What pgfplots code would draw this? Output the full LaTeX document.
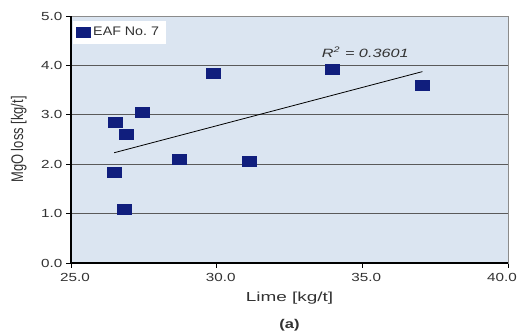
\documentclass[border=0pt]{standalone}
\usepackage{graphicx}
\usepackage{pgfplots}
\pgfplotsset{compat=1.18}
\usepackage{fontspec}
\setmainfont{Liberation Sans}
\definecolor{plotbg}{RGB}{219,229,241}
\definecolor{navy}{RGB}{16,30,125}
\definecolor{gridc}{RGB}{90,90,90}
\definecolor{labc}{RGB}{50,50,50}
% wide lettering used throughout the figure
\newcommand{\wide}[1]{\scalebox{1.3}[1]{#1}}
\begin{document}
\begin{tikzpicture}[x=1pt,y=1pt]
\useasboundingbox (-53.25pt,-50.25pt) rectangle (337.5pt,197.25pt);
\begin{axis}[
  at={(0,0)}, anchor=south west,
  scale only axis,
  width=327.75pt, height=185.25pt,
  xmin=25, xmax=40, ymin=0, ymax=5,
  xtick={25,30,35,40}, ytick={0,1,2,3,4,5},
  xticklabels={\wide{25.0},\wide{30.0},\wide{35.0},\wide{40.0}\kern15pt},
  yticklabels={\wide{0.0},\wide{1.0},\wide{2.0},\wide{3.0},\wide{4.0},\wide{5.0}},
  tick align=outside, tick pos=left,
  major tick length=3.5pt,
  tick style={black, line width=0.7pt},
  axis background/.style={fill=plotbg},
  axis line style={gridc!70, line width=0.6pt},
  ymajorgrids, grid style={gridc, line width=0.7pt},
  ticklabel style={font=\fontsize{8.8}{10}\selectfont, text=labc},
  xticklabel style={yshift=-0.5pt, xshift=3pt},
  yticklabel style={xshift=0.5pt},
  xlabel={\scalebox{1.45}[1]{Lime [kg/t]}},
  xlabel style={font=\fontsize{9.8}{10}\selectfont, text=labc, yshift=-1pt},
  ylabel={\scalebox{1}[1.3]{MgO loss [kg/t]}},
  ylabel style={font=\fontsize{9.7}{10}\selectfont, text=labc, yshift=4pt},
  legend style={at={(0.003,0.98)}, anchor=north west, draw=none, fill=white,
    font=\fontsize{9.3}{10}\selectfont, text=labc, inner xsep=3pt, inner ysep=2.5pt,
    row sep=0pt},
  legend cell align=left,
  clip=false,
]
% left and bottom axis lines drawn solid black
\draw[black, line width=0.8pt] (axis cs:25,5) -- (axis cs:25,0) -- (axis cs:40,0);
\addplot[only marks, mark=square*, mark size=3.75pt,
  mark options={fill=navy, draw=navy, xscale=1.4}]
  coordinates {
    (26.51,2.85) (26.89,2.61) (27.44,3.06) (29.88,3.85) (28.71,2.10)
    (31.12,2.06) (26.48,1.84) (26.82,1.09) (33.97,3.93) (37.06,3.60)
  };
\addlegendentry{\scalebox{1.15}[1]{EAF No.\ 7}}
% linear trend line
\addplot[black, line width=0.6pt, forget plot] coordinates {(26.48,2.232) (37.06,3.874)};
\node[font=\fontsize{9}{10}\selectfont\itshape, text=labc, anchor=base]
  at (axis cs:35.1,4.15) {\scalebox{1.35}[1]{R\textsuperscript{2} = 0.3601}};
\node[font=\fontsize{9.5}{10}\selectfont\bfseries, text=labc, anchor=base]
  at (axis cs:32.5,-1.33) {\wide{(a)}};
\end{axis}
\end{tikzpicture}
\end{document}
